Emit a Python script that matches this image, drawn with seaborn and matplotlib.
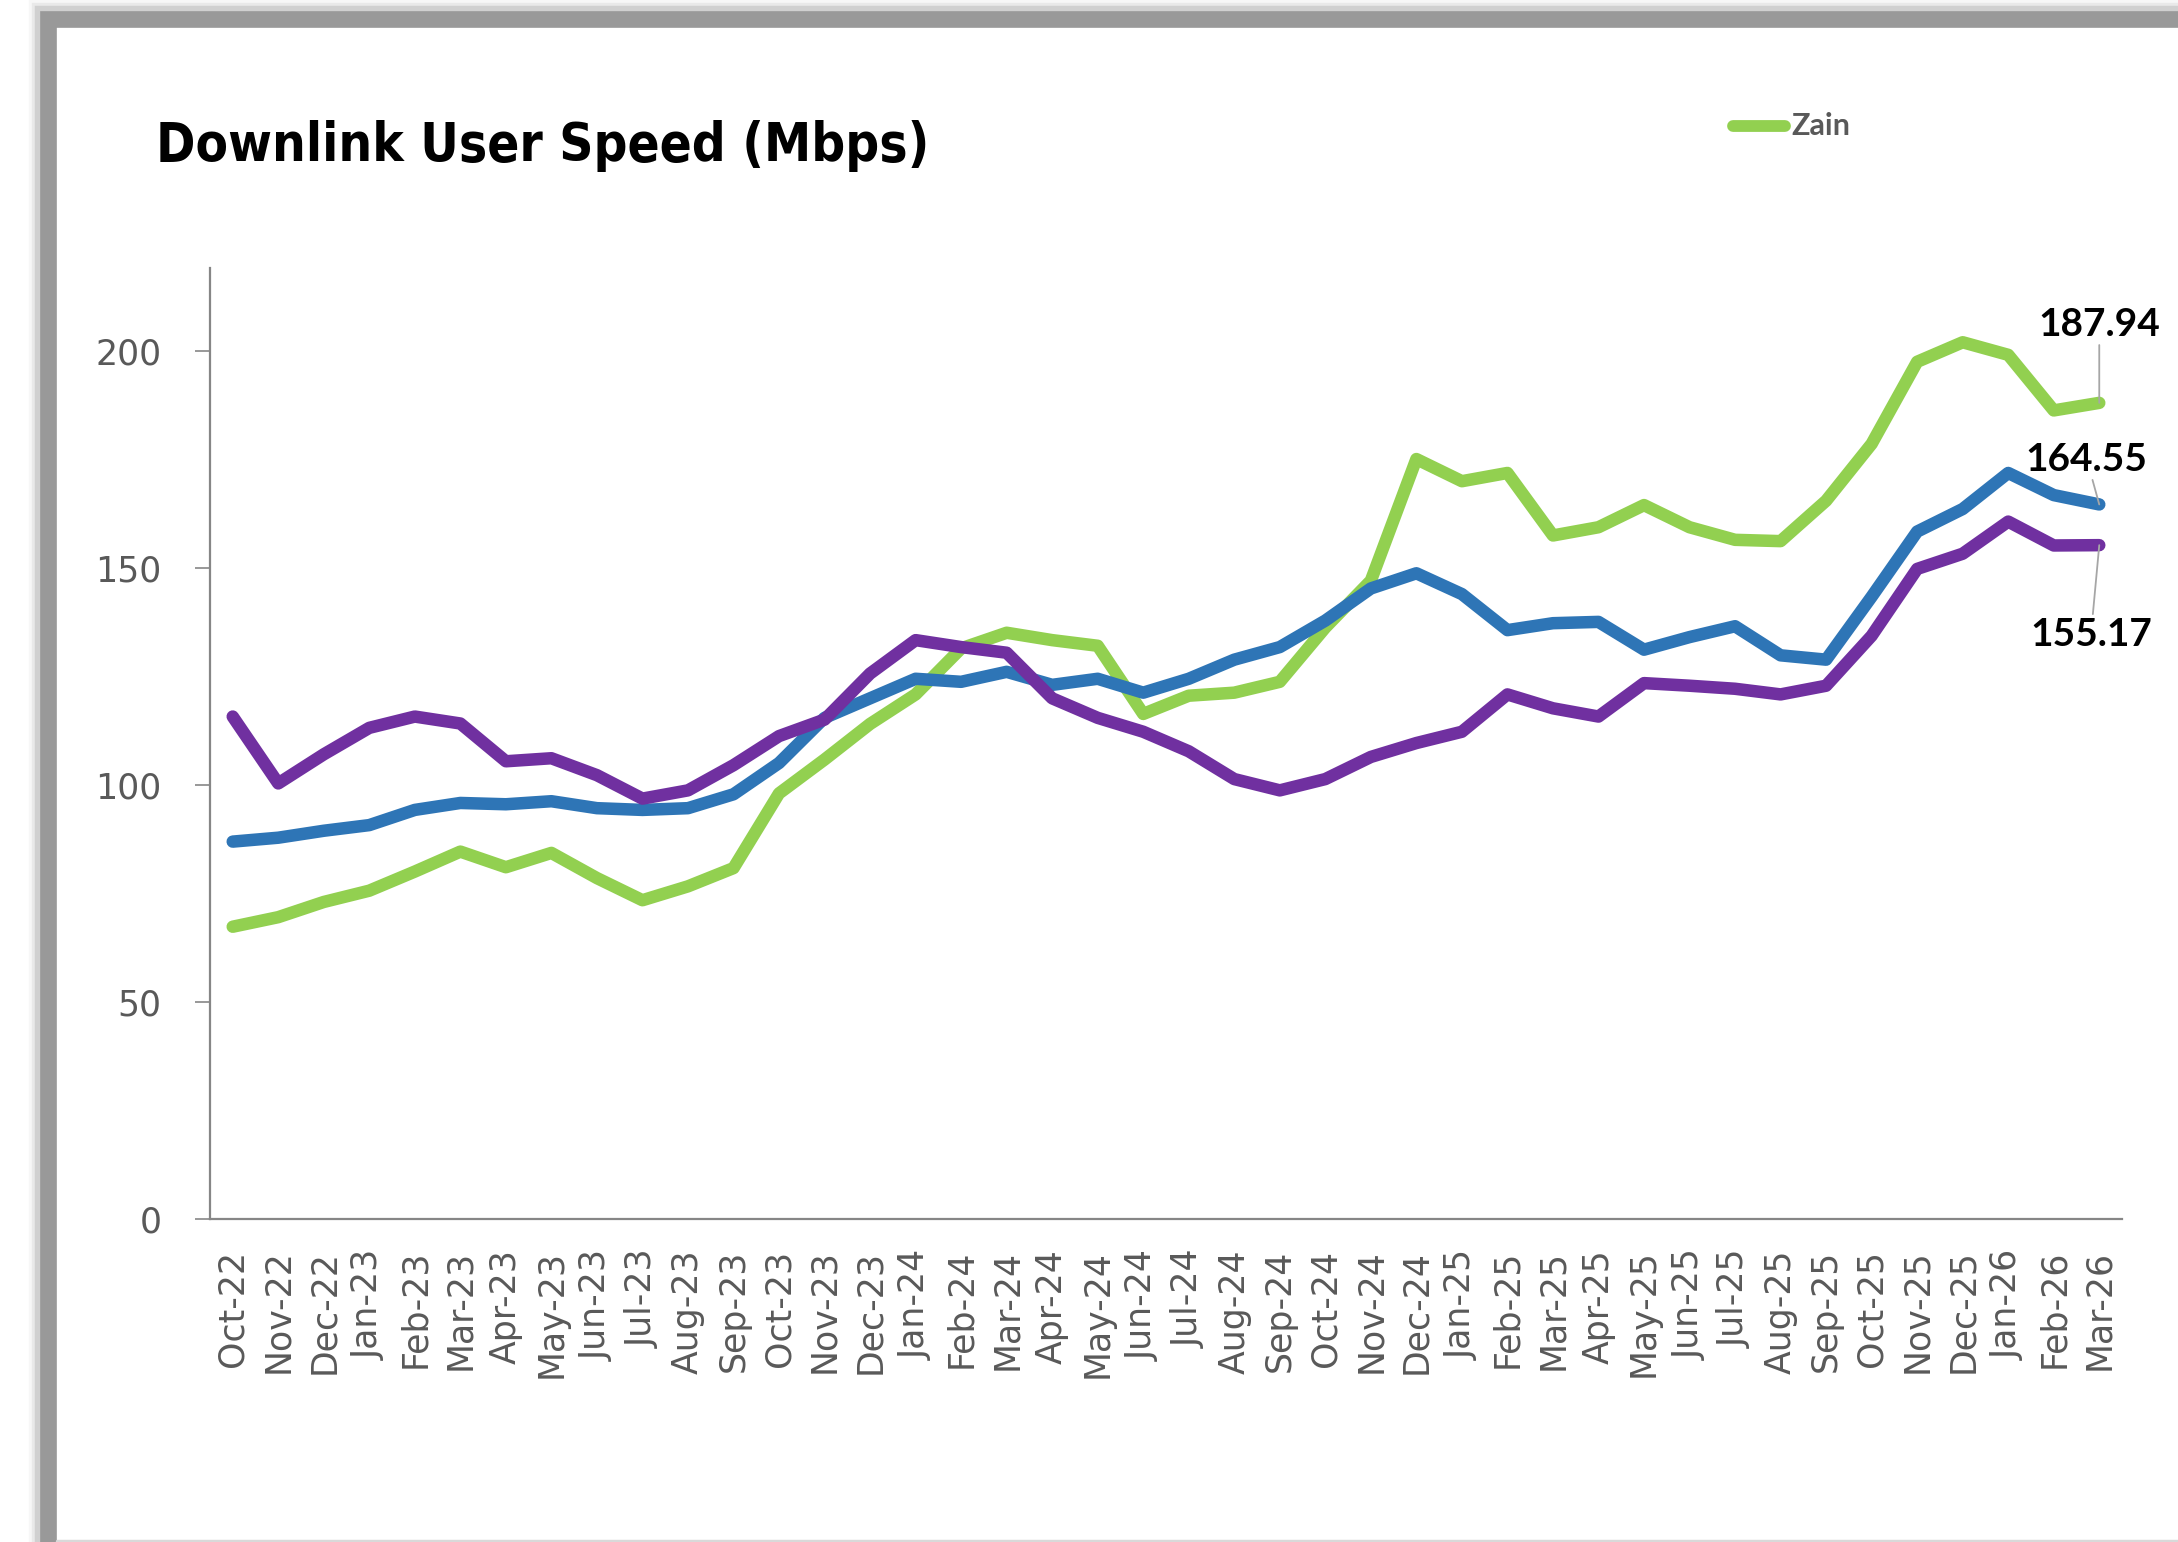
import matplotlib
matplotlib.use("Agg")
import matplotlib.pyplot as plt
from matplotlib.patches import Rectangle
import pandas as pd
import seaborn as sns

# data
months = ["Oct-22", "Nov-22", "Dec-22", "Jan-23", "Feb-23", "Mar-23", "Apr-23", "May-23",
          "Jun-23", "Jul-23", "Aug-23", "Sep-23", "Oct-23", "Nov-23", "Dec-23", "Jan-24",
          "Feb-24", "Mar-24", "Apr-24", "May-24", "Jun-24", "Jul-24", "Aug-24", "Sep-24",
          "Oct-24", "Nov-24", "Dec-24", "Jan-25", "Feb-25", "Mar-25", "Apr-25", "May-25",
          "Jun-25", "Jul-25", "Aug-25", "Sep-25", "Oct-25", "Nov-25", "Dec-25", "Jan-26",
          "Feb-26", "Mar-26"]

zain = [67.3, 69.5, 73.0, 75.6, 80.0, 84.6, 81.0, 84.3, 78.5, 73.4, 76.6, 80.8,
        98.0, 105.8, 114.0, 120.8, 131.4, 135.0, 133.3, 132.0, 116.3, 120.5, 121.2, 123.7,
        136.2, 147.0, 175.0, 169.9, 171.8, 157.4, 159.3, 164.4, 159.3, 156.4, 156.1, 165.4,
        178.5, 197.4, 201.9, 199.0, 186.2, 187.94]

operator_b = [86.9, 87.8, 89.4, 90.7, 94.2, 95.8, 95.5, 96.2, 94.6, 94.2, 94.6, 97.8,
              105.0, 115.4, 119.9, 124.4, 123.7, 126.0, 123.0, 124.4, 121.2, 124.4, 128.8, 131.7,
              137.8, 145.2, 148.7, 143.9, 135.6, 137.2, 137.5, 131.1, 134.0, 136.5, 129.8, 128.8,
              143.3, 158.3, 163.5, 171.8, 166.7, 164.55]

operator_c = [115.7, 100.3, 107.0, 113.1, 115.7, 114.1, 105.4, 106.1, 102.2, 96.8, 98.7, 104.5,
              111.2, 115.0, 125.6, 133.3, 131.7, 130.4, 119.9, 115.4, 112.2, 107.7, 101.3, 98.7,
              101.3, 106.4, 109.6, 112.2, 120.8, 117.6, 115.7, 123.4, 122.8, 122.1, 120.8, 122.8,
              134.3, 149.7, 153.2, 160.6, 155.1, 155.17]

series_names = ["Zain", "Operator B", "Operator C"]
series_colors = ["#92D050", "#2E75B6", "#7030A0"]

df = pd.DataFrame({"Month": months, "Zain": zain,
                   "Operator B": operator_b, "Operator C": operator_c})
long_df = df.melt(id_vars="Month", var_name="Operator", value_name="Speed")

sns.set_style("white")
plt.rcParams["font.family"] = ["DejaVu Sans"]

fig = plt.figure(figsize=(21.78, 15.42), dpi=100)
ax = fig.add_axes([0.0964, 0.2095, 0.8779, 0.6167])

sns.lineplot(data=long_df, x="Month", y="Speed", hue="Operator",
             hue_order=series_names, palette=series_colors, sort=False,
             linewidth=9, ax=ax, legend=False)
for line in ax.lines:
    line.set_solid_capstyle("round")
    line.set_solid_joinstyle("round")

ax.set_xlim(-0.5, len(months) - 0.5)
ax.set_ylim(0, 219)
ax.set_yticks([0, 50, 100, 150, 200])
ax.set_xlabel("")
ax.set_ylabel("")
ax.tick_params(axis="x", labelrotation=90, labelsize=25, labelcolor="#595959",
               length=0, pad=22)
ax.tick_params(axis="y", labelsize=25, labelcolor="#595959", length=11,
               width=1.2, color="#868686", direction="out", pad=24, left=True)
for side in ["top", "right"]:
    ax.spines[side].set_visible(False)
for side in ["left", "bottom"]:
    ax.spines[side].set_color("#868686")
    ax.spines[side].set_linewidth(1.6)

# end labels
last = len(months) - 1
label_font = dict(fontsize=28, fontweight="bold", color="black", family=["Lato", "DejaVu Sans"])
leader = dict(arrowstyle="-", color="#A6A6A6", lw=1.3, shrinkA=0, shrinkB=0)
ax.annotate(f"{zain[-1]:.2f}", xy=(last, zain[-1]), xytext=(0, 44),
            textcoords="offset points", ha="center", va="bottom",
            arrowprops=leader, **label_font)
ax.annotate(f"{operator_b[-1]:.2f}", xy=(last, operator_b[-1]), xytext=(-9, 20),
            textcoords="offset points", ha="center", va="bottom",
            arrowprops=leader, **label_font)
ax.annotate(f"{operator_c[-1]:.2f}", xy=(last, operator_c[-1]), xytext=(-6, -52),
            textcoords="offset points", ha="center", va="top",
            arrowprops=leader, **label_font)

# title and single legend entry
fig.text(0.0716, 0.905, "Downlink User Speed (Mbps)", fontsize=38, fontweight="heavy",
         fontstretch="condensed", family=["DejaVu Sans"], color="black", va="center")
fig.lines.append(plt.Line2D([0.7955, 0.8195], [0.9183, 0.9183], transform=fig.transFigure,
                            color=series_colors[0], lw=8.5, solid_capstyle="round"))
fig.text(0.8225, 0.9183, "Zain", fontsize=22, fontweight="bold", color="#595959",
         family=["Lato", "DejaVu Sans"], va="center")

# card frame with soft shadow
for off, alpha in [(10, 0.08), (7, 0.15), (4, 0.3)]:
    fig.patches.append(Rectangle(((48 - off) / 2178, -0.05), 1.2, (1542 - 19 + off) / 1542 + 0.05,
                                 transform=fig.transFigure, fill=False,
                                 ec="#999999", lw=14, alpha=alpha, zorder=-2))
fig.patches.append(Rectangle((48 / 2178, -0.05), 1.2, (1542 - 19) / 1542 + 0.05,
                             transform=fig.transFigure, fill=False,
                             ec="#999999", lw=12, zorder=-1))
fig.lines.append(plt.Line2D([57 / 2178, 1], [1.5 / 1542, 1.5 / 1542], transform=fig.transFigure,
                            color="#D9D9D9", lw=2.5))

fig.savefig("out.png", dpi=100, facecolor="white")
